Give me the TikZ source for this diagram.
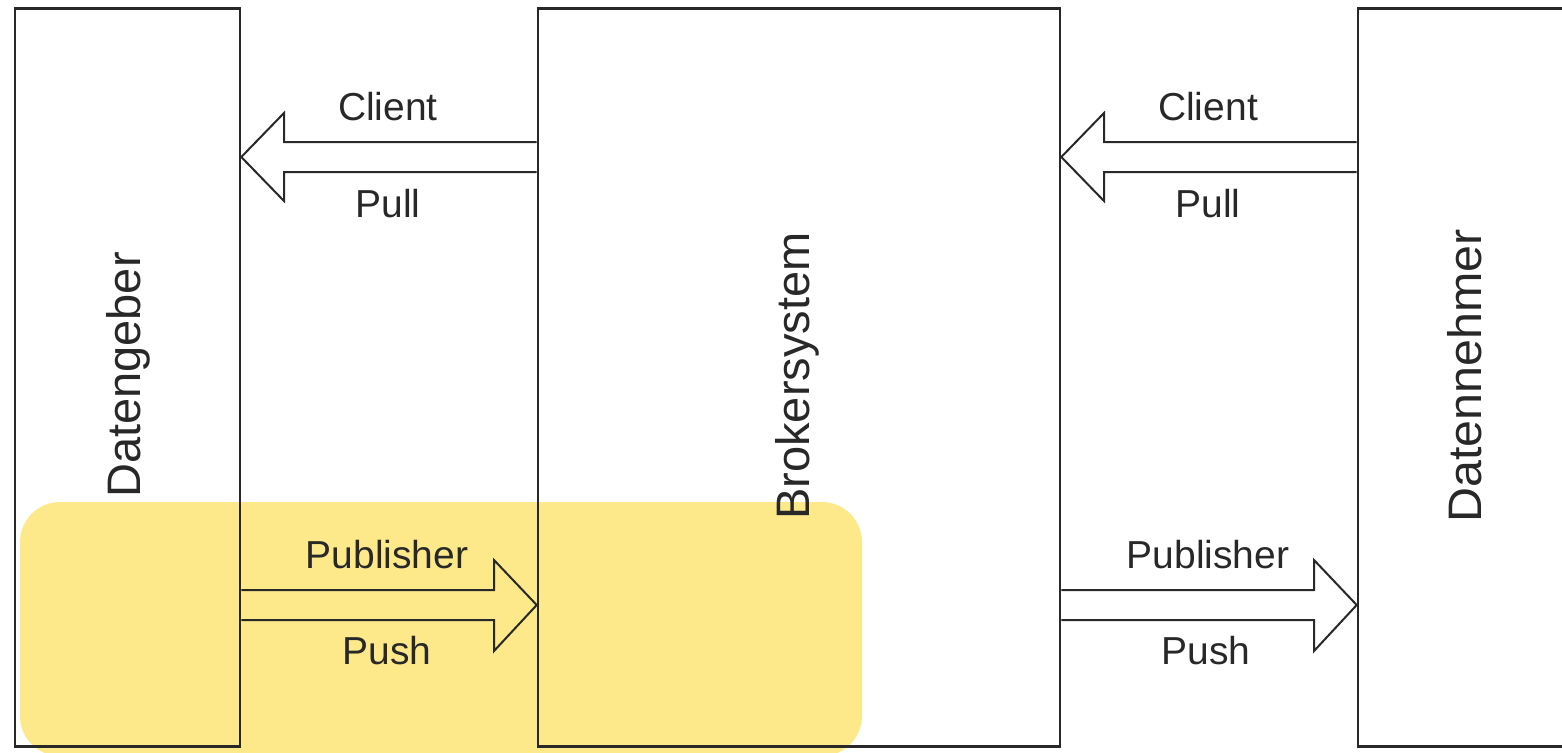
\documentclass[tikz,border=0pt]{standalone}
\usepackage{fontspec}
\setmainfont{Liberation Sans}
\definecolor{hl}{RGB}{253,233,138}
\definecolor{ln}{RGB}{40,40,40}
\begin{document}
\begin{tikzpicture}[x=0.5pt,y=-0.5pt,
  box/.style={draw=ln,line width=1.3pt,minimum width=#1,minimum height=369pt,inner sep=0pt},
  boxlabel/.style={rotate=90,font=\fontsize{23.5pt}{26pt}\selectfont,text=ln},
  lbl/.style={font=\fontsize{19.5pt}{22pt}\selectfont,text=ln},
  blk/.style={draw=ln,line width=1pt,line join=miter}]
\useasboundingbox (0,0) rectangle (1562,752);
\clip (0,0) rectangle (1562,752);
\fill[hl,rounded corners=20pt] (20,502) rectangle (862,756);
\node[box=112.5pt] (giver) at (127.5,377.5) {};
\node[box=261pt] (broker) at (799,377.5) {};
\node[box=125pt] (taker) at (1483,377.5) {};
\node[boxlabel] (giverlbl) at (128,375) {Datengeber};
\node[boxlabel] (brokerlbl) at (797,376) {Brokersystem};
\node[boxlabel,xscale=1.03] (takerlbl) at (1465,376) {Datennehmer};
% top left: broker -> giver (Client/Pull)
\draw[blk] (broker.west |- 0,142) -- (284,142) -- (284,113) -- (giver.east |- 0,157) -- (284,201) -- (284,172) -- (broker.west |- 0,172);
% top right: taker -> broker
\draw[blk] (taker.west |- 0,142) -- (1104,142) -- (1104,113) -- (broker.east |- 0,157) -- (1104,201) -- (1104,172) -- (taker.west |- 0,172);
% bottom left: giver -> broker
\draw[blk] (giver.east |- 0,590) -- (494,590) -- (494,560) -- (broker.west |- 0,605) -- (494,651) -- (494,620) -- (giver.east |- 0,620);
% bottom right: broker -> taker
\draw[blk] (broker.east |- 0,590) -- (1314,590) -- (1314,560) -- (taker.west |- 0,605) -- (1314,651) -- (1314,620) -- (broker.east |- 0,620);
\node[lbl] (c1) at (388,107) {Client};
\node[lbl] (p1) at (388,204) {Pull};
\node[lbl] (c2) at (1208,107) {Client};
\node[lbl] (p2) at (1208,204) {Pull};
\node[lbl] (pub1) at (387,555) {Publisher};
\node[lbl] (push1) at (387,651) {Push};
\node[lbl] (pub2) at (1208,555) {Publisher};
\node[lbl] (push2) at (1206,651) {Push};
\end{tikzpicture}
\end{document}
